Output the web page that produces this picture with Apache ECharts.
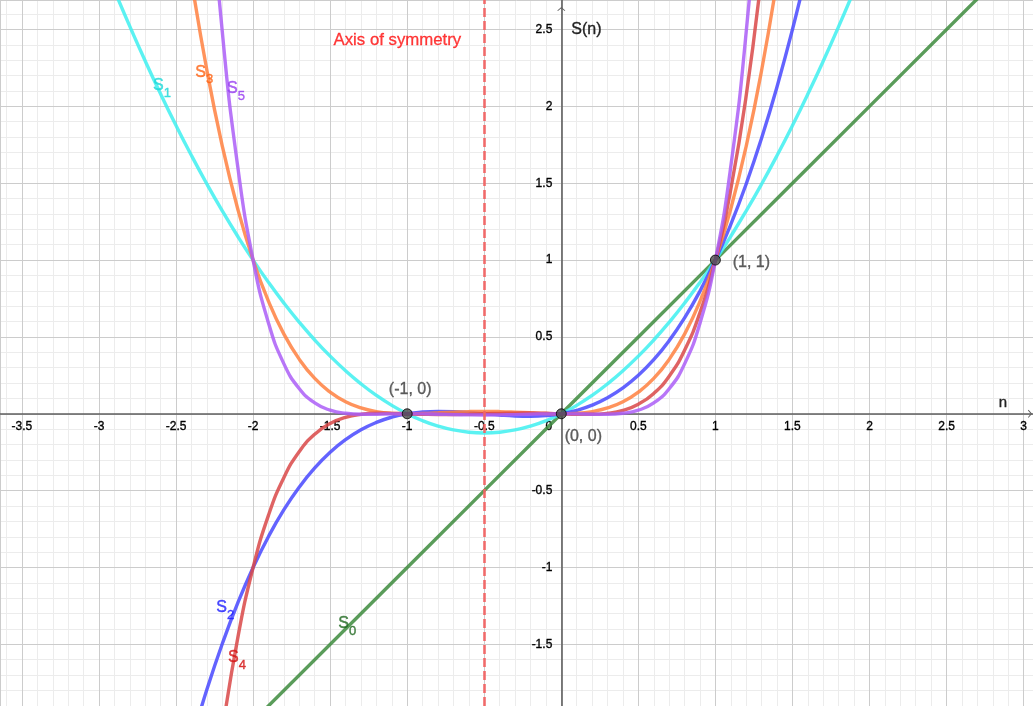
<!DOCTYPE html>
<html>
<head>
<meta charset="utf-8">
<title>S(n) – sums of powers</title>
<script src="https://cdn.jsdelivr.net/npm/echarts@6/dist/echarts.min.js"></script>
<style>
  html, body { margin: 0; padding: 0; background: #ffffff; }
  #chart { width: 1033px; height: 706px; }
</style>
</head>
<body>
<div id="chart"></div>
<script>
// Sample points n for the power-sum polynomials S_k(n) = 1^k + 2^k + ... + n^k
const N = [-3.0,-2.9,-2.8,-2.7,-2.6,-2.5,-2.4,-2.3,-2.2,-2.1,-2.0,-1.9,-1.8,-1.7,-1.6,-1.5,-1.4,-1.3,-1.2,-1.1,
  -1.0,-0.9,-0.8,-0.7,-0.6,-0.5,-0.4,-0.3,-0.2,-0.1,0,0.1,0.2,0.3,0.4,0.5,0.6,0.7,0.8,0.9,
  1.0,1.1,1.2,1.3,1.4,1.5,1.6,1.7,1.8,1.9,2.0];

// S0(n) = n, a straight line
const N0 = [-2, -1, 0, 1, 2, 3];
const S0 = [-2, -1, 0, 1, 2, 3];

const S1 = [3.0,2.755,2.52,2.295,2.08,1.875,1.68,1.495,1.32,1.155,1.0,0.855,0.72,0.595,0.48,0.375,0.28,0.195,0.12,0.055,
  0,-0.045,-0.08,-0.105,-0.12,-0.125,-0.12,-0.105,-0.08,-0.045,0,0.055,0.12,0.195,0.28,0.375,0.48,0.595,0.72,0.855,
  1.0,1.155,1.32,1.495,1.68,1.875,2.08,2.295,2.52,2.755,3.0];

const S2 = [-5,-4.408,-3.864,-3.366,-2.912,-2.5,-2.128,-1.794,-1.496,-1.232,-1,-0.798,-0.624,-0.476,-0.352,-0.25,-0.168,-0.104,-0.056,-0.022,
  0,0.012,0.016,0.014,0.008,0,-0.008,-0.014,-0.016,-0.012,0,0.022,0.056,0.104,0.168,0.25,0.352,0.476,0.624,0.798,
  1,1.232,1.496,1.794,2.128,2.5,2.912,3.366,3.864,4.408,5];

const S3 = [9,7.590,6.350,5.267,4.326,3.516,2.822,2.235,1.742,1.334,1,0.731,0.518,0.354,0.230,0.141,0.078,0.038,0.0144,0.00303,
  0,0.00203,0.0064,0.0110,0.0144,0.0156,0.0144,0.0110,0.0064,0.00203,0,0.00303,0.0144,0.038,0.078,0.141,0.230,0.354,0.518,0.731,
  1,1.334,1.742,2.235,2.822,3.516,4.326,5.267,6.350,7.590,9];

const S4 = [-17,-13.69,-10.91,-8.597,-6.686,-5.125,-3.864,-2.860,-2.070,-1.461,-1,-0.659,-0.414,-0.2447,-0.1324,-0.0625,-0.02285,-0.00354,0.00314,0.00295,
  0,-0.00305,-0.00474,-0.00456,-0.00275,0,0.00275,0.00456,0.00474,0.00305,0,-0.00295,-0.00314,0.00354,0.02285,0.0625,0.1324,0.2447,0.414,0.659,
  1,1.461,2.070,2.860,3.864,5.125,6.686,8.597,10.91,13.69,17];

const S5 = [33,25.35,19.22,14.36,10.56,7.617,5.381,3.710,2.486,1.610,1,0.5897,0.3249,0.1628,0.0707,0.0234,0.00314,-0.00279,-0.0025,-0.00079,
  0,-0.0008,-0.00282,-0.00522,-0.0071,-0.0078,-0.0071,-0.00522,-0.00282,-0.0008,0,-0.00079,-0.0025,-0.00279,0.00314,0.0234,0.0707,0.1628,0.3249,0.5897,
  1,1.610,2.486,3.710,5.381,7.617,10.56,14.36,19.22,25.35,33];

// Common points of the curves
const POINTS = [[-1, 0], [0, 0], [1, 1]];
// Axis of symmetry n = -1/2
const SYMMETRY_N = -0.5;
const SYMMETRY_TEXT = 'Axis of symmetry';

// ---- presentation ----
const FONT = '"Liberation Sans", Arial, Helvetica, sans-serif';
const X_MIN = -3.6425, X_MAX = 3.061;
const Y_MIN = -1.901, Y_MAX = 2.692;

const CURVES = [
  { k: 0, xs: N0, ys: S0, color: '#3d8b3d', text: '#226a22', at: [-1.447, -1.367] },
  { k: 1, xs: N,  ys: S1, color: '#3ef0f0', text: '#1ed8d8', at: [-2.649, 2.133] },
  { k: 2, xs: N,  ys: S2, color: '#4848ff', text: '#2020ff', at: [-2.239, -1.263] },
  { k: 3, xs: N,  ys: S3, color: '#ff8040', text: '#ff6414', at: [-2.375, 2.221] },
  { k: 4, xs: N,  ys: S4, color: '#d94848', text: '#d41414', at: [-2.163, -1.588] },
  { k: 5, xs: N,  ys: S5, color: '#ab5ef7', text: '#9840f0', at: [-2.169, 2.114] }
];
const POINT_LABEL_OFFSETS = [[3, -24], [22, 23], [36, 3]];

// open chevron used as the arrow head of both axes
const ARROW = 'path://M5,0 L10,4.4 L9.2,5.2 L5,1.6 L0.8,5.2 L0,4.4 Z';

function tickText(v) {
  if (Math.abs(v * 2 - Math.round(v * 2)) > 1e-6) return '';
  return String(Math.round(v * 2) / 2);
}

// a hair-thin outline in the text colour gives the slightly heavier glyphs
function heavy(color, w) {
  return { color: color, textBorderColor: color, textBorderWidth: w };
}

const labelBase = Object.assign({ fontFamily: FONT, fontSize: 12 }, heavy('#000000', 0.35));

const chart = echarts.init(document.getElementById('chart'), null, { renderer: 'canvas' });

const series = [];

CURVES.forEach(function (c) {
  series.push({
    name: 'S' + c.k,
    type: 'line',
    data: c.xs.map(function (n, i) { return [n, c.ys[i]]; }),
    showSymbol: false,
    smooth: 0.5,
    clip: true,
    silent: true,
    z: 3 + c.k * 0.01,
    lineStyle: { color: c.color, width: 3.4, opacity: 0.85 },
    xAxisIndex: 0, yAxisIndex: 0
  });
});

// curve names S_k with subscript
series.push({
  type: 'scatter',
  silent: true,
  symbolSize: 0,
  z: 6,
  data: CURVES.map(function (c) {
    return {
      value: c.at,
      label: {
        show: true,
        position: 'right',
        distance: 0,
        formatter: '{s|S}{sub|' + c.k + '}',
        rich: {
          s: Object.assign({ fontFamily: FONT, fontSize: 16, lineHeight: 16 }, heavy(c.text, 0.45)),
          sub: Object.assign({ fontFamily: FONT, fontSize: 13, lineHeight: 13, padding: [15, 0, 0, 0] }, heavy(c.text, 0.4))
        }
      }
    };
  })
});

// common points and their coordinates, plus the dashed axis of symmetry
series.push({
  type: 'scatter',
  silent: true,
  z: 7,
  symbol: 'circle',
  symbolSize: 10,
  itemStyle: { color: '#4a4a4a', borderColor: '#000000', borderWidth: 1 },
  data: POINTS.map(function (p, i) {
    return {
      value: p,
      label: Object.assign({
        show: true,
        position: 'inside',
        offset: POINT_LABEL_OFFSETS[i],
        formatter: '(' + p[0] + ', ' + p[1] + ')',
        fontFamily: FONT, fontSize: 16
      }, heavy('#3a3a3a', 0.35))
    };
  }),
  markLine: {
    silent: true,
    symbol: 'none',
    label: { show: false },
    lineStyle: { color: '#f06464', width: 2.6, type: [9, 4], opacity: 0.95 },
    data: [{ xAxis: SYMMETRY_N }]
  }
});

// caption of the axis of symmetry
series.push({
  type: 'scatter',
  silent: true,
  symbolSize: 0,
  z: 7,
  data: [[SYMMETRY_N, 2.43]],
  label: Object.assign({
    show: true,
    position: 'left',
    distance: 23,
    formatter: SYMMETRY_TEXT,
    fontFamily: FONT, fontSize: 16.8
  }, heavy('#ff0a0a', 0.3))
});

const option = {
  animation: false,
  backgroundColor: '#ffffff',
  grid: { left: 0, right: 0, top: 0, bottom: 0, containLabel: false, outerBoundsMode: 'none' },
  xAxis: [
    {
      type: 'value', min: X_MIN, max: X_MAX, minInterval: 0.5, maxInterval: 0.5,
      z: 1,
      name: 'n', nameLocation: 'end', nameGap: -30, nameMoveOverlap: false,
      nameTextStyle: Object.assign({ fontFamily: FONT, fontSize: 15, align: 'center', verticalAlign: 'bottom', padding: [0, 0, 3, 0] }, heavy('#222222', 0.35)),
      axisLine: { show: true, onZero: false, lineStyle: { color: '#5f5f5f', width: 1.6 },
        symbol: ['none', ARROW], symbolSize: [8, 5], symbolOffset: [0, -3] },
      axisTick: { show: false },
      axisLabel: Object.assign({}, labelBase, {
        margin: 7, hideOverlap: false,
        formatter: function (v) { return Math.abs(v) < 1e-9 ? '{z|0}' : tickText(v); },
        rich: { z: Object.assign({}, labelBase, { padding: [0, 25, 0, 0] }) }
      }),
      splitLine: { show: true, lineStyle: { color: '#cccccc', width: 1 } }
    },
    {
      type: 'value', min: X_MIN, max: X_MAX, minInterval: 0.1, maxInterval: 0.1,
      z: 0, position: 'bottom',
      axisLine: { show: false, onZero: false }, axisTick: { show: false }, axisLabel: { show: false },
      splitLine: { show: true, lineStyle: { color: '#ececec', width: 1 } }
    }
  ],
  yAxis: [
    {
      type: 'value', min: Y_MIN, max: Y_MAX, minInterval: 0.5, maxInterval: 0.5,
      z: 1,
      name: 'S(n)', nameLocation: 'end', nameGap: -30, nameMoveOverlap: false,
      nameTextStyle: Object.assign({ fontFamily: FONT, fontSize: 16, align: 'left', verticalAlign: 'middle', padding: [0, 0, 0, 10] }, heavy('#222222', 0.35)),
      axisLine: { show: true, onZero: false, lineStyle: { color: '#5f5f5f', width: 1.6 },
        symbol: ['none', ARROW], symbolSize: [8, 5], symbolOffset: [0, -9] },
      axisTick: { show: false },
      axisLabel: Object.assign({}, labelBase, {
        margin: 9, hideOverlap: false,
        formatter: function (v) { return Math.abs(v) < 1e-9 ? '' : tickText(v); }
      }),
      splitLine: { show: true, lineStyle: { color: '#cccccc', width: 1 } }
    },
    {
      type: 'value', min: Y_MIN, max: Y_MAX, minInterval: 0.1, maxInterval: 0.1,
      z: 0, position: 'left',
      axisLine: { show: false, onZero: false }, axisTick: { show: false }, axisLabel: { show: false },
      splitLine: { show: true, lineStyle: { color: '#ececec', width: 1 } }
    }
  ],
  series: series
};

chart.setOption(option);

// Move both labelled axes (line, labels and name) onto the origin of the plot.
const origin = chart.convertToPixel({ xAxisIndex: 0, yAxisIndex: 0 }, [0, 0]);
chart.setOption({
  xAxis: [{ offset: origin[1] - chart.getHeight() }, {}],
  yAxis: [{ offset: -origin[0] }, {}]
});
</script>
</body>
</html>
